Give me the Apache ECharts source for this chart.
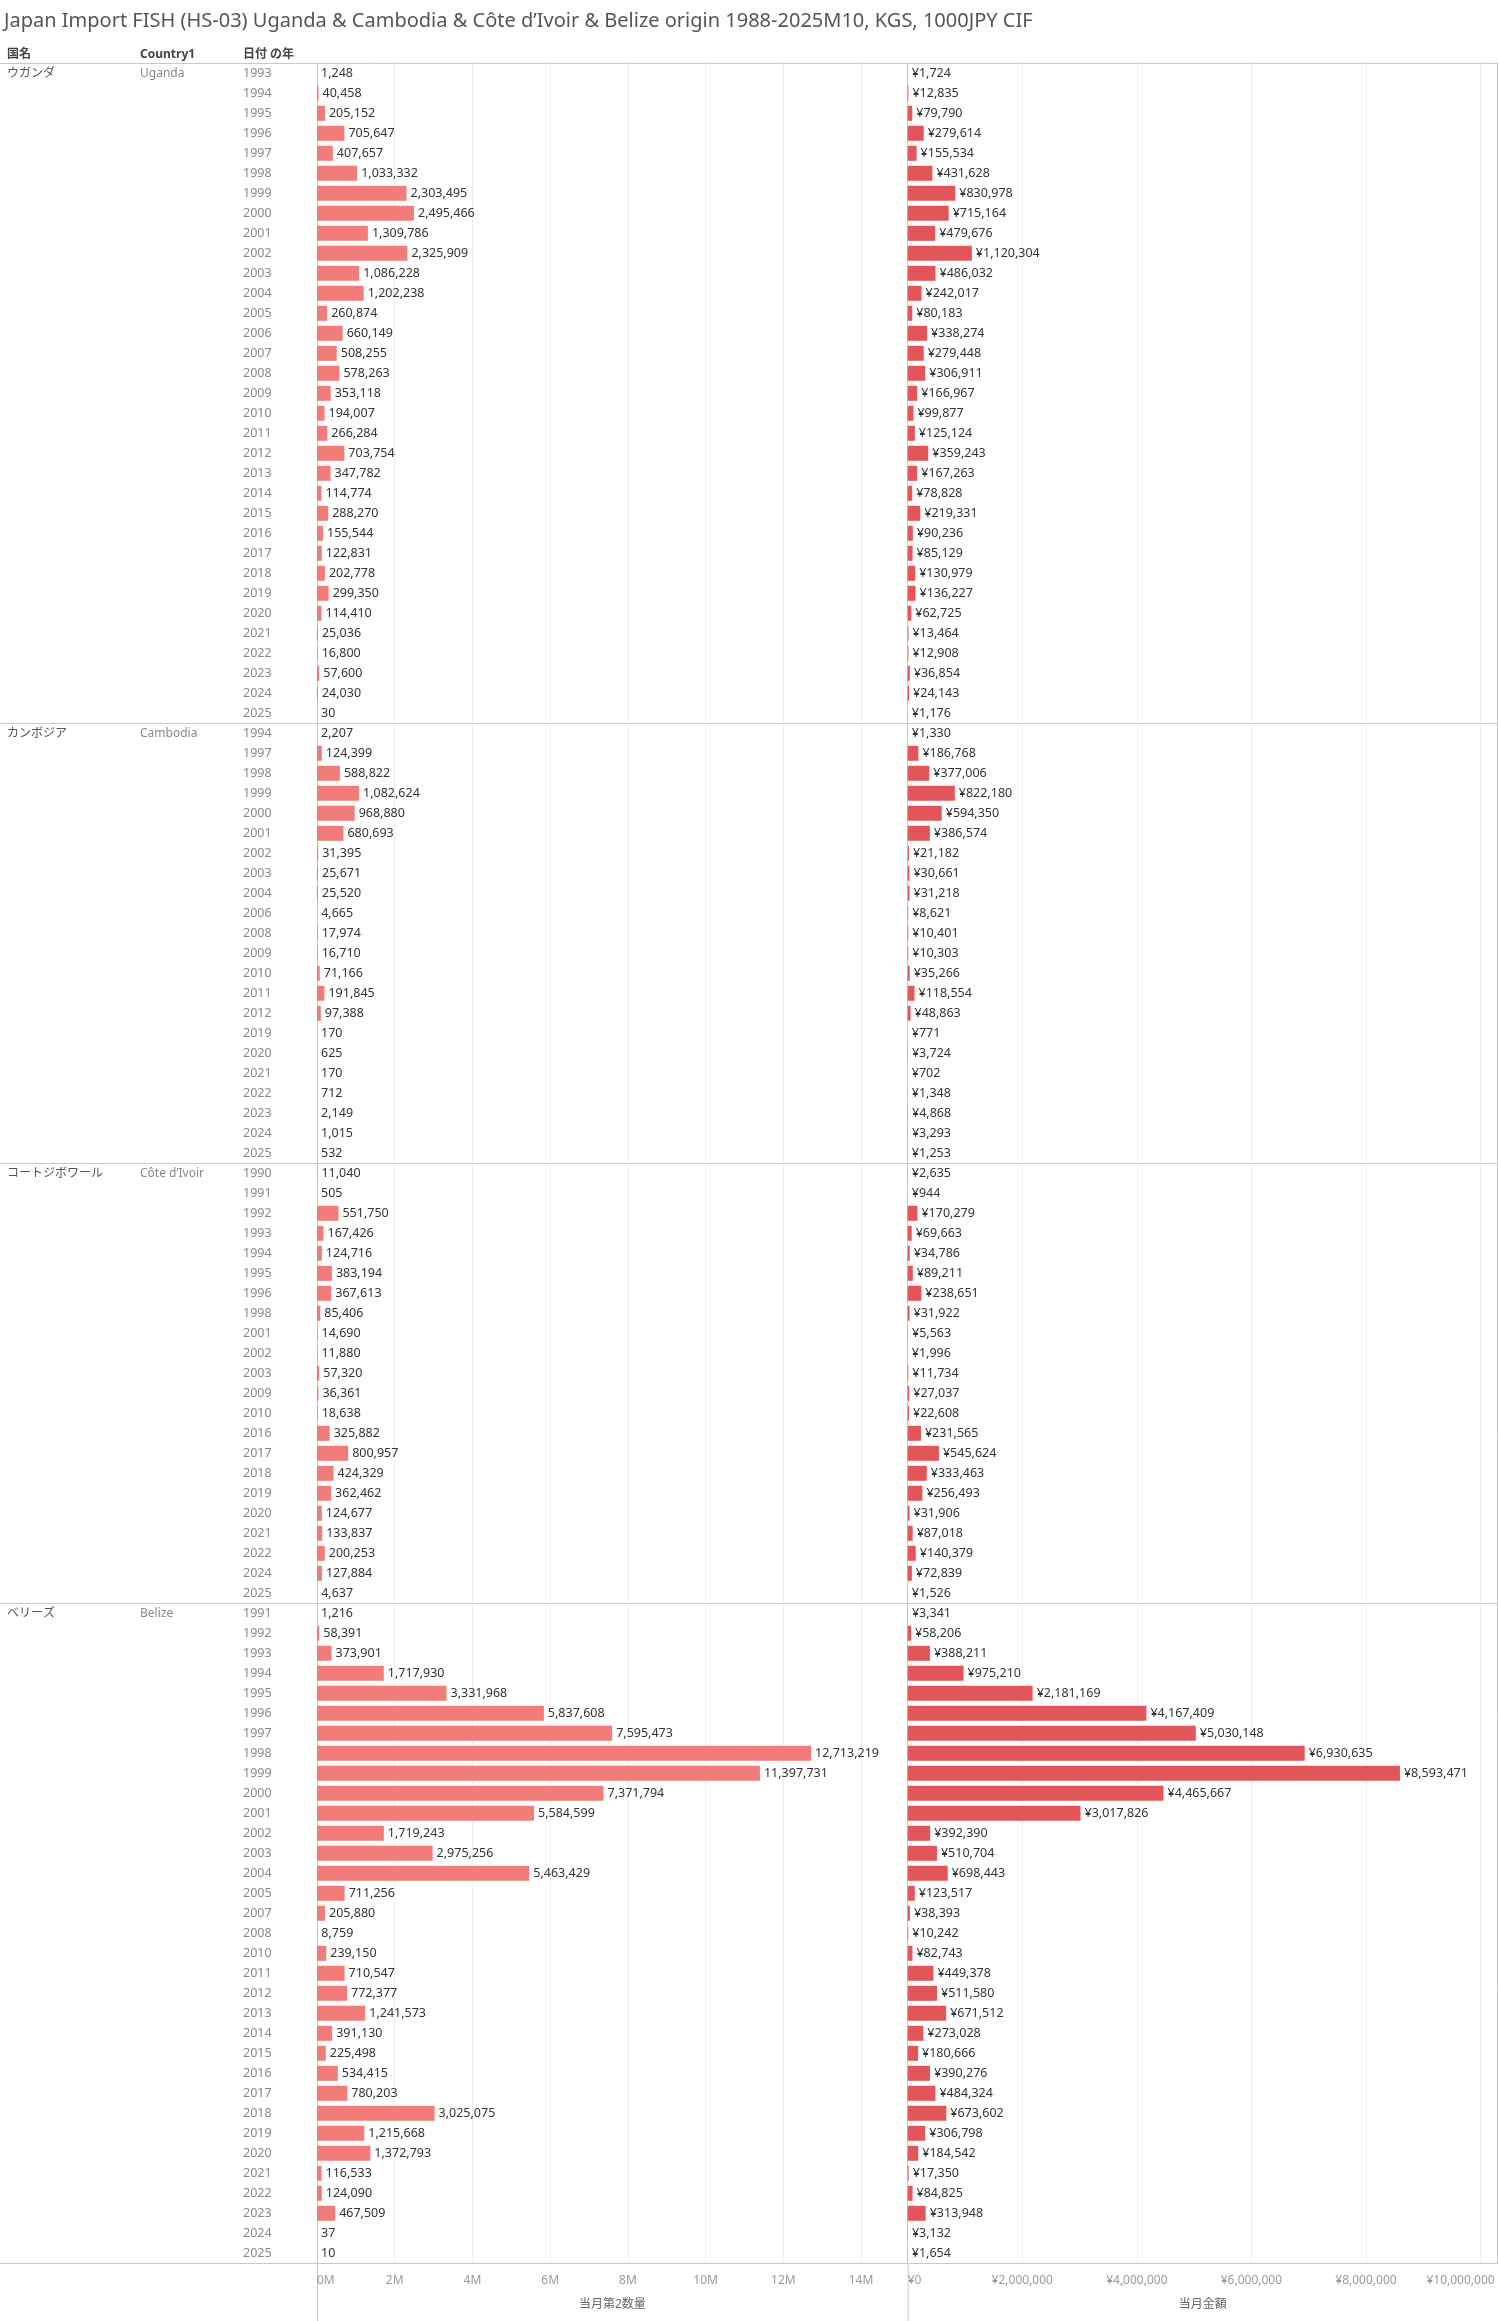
<!DOCTYPE html>
<html>
<head>
<meta charset="utf-8">
<script src="https://cdn.jsdelivr.net/npm/echarts@6/dist/echarts.min.js"></script>
<style>
html,body{margin:0;padding:0;background:#fff;}
#chart{width:1499px;height:2321px;}
</style>
</head>
<body>
<div id="chart"></div>
<script>
// ---------------- DATA ----------------
const titleText = 'Japan Import FISH (HS-03) Uganda & Cambodia & Côte d’Ivoir & Belize origin 1988-2025M10, KGS, 1000JPY CIF';
const headerLabels = ['国名', 'Country1', '日付 の年'];
const countriesJa = ['ウガンダ', 'カンボジア', 'コートジボワール', 'ベリーズ'];
const countriesEn = ['Uganda', 'Cambodia', 'Côte d’Ivoir', 'Belize'];

const ugandaYears = [1993,1994,1995,1996,1997,1998,1999,2000,2001,2002,2003,2004,2005,2006,2007,2008,2009,2010,2011,2012,2013,2014,2015,2016,2017,2018,2019,2020,2021,2022,2023,2024,2025];
const ugandaQty = [1248,40458,205152,705647,407657,1033332,2303495,2495466,1309786,2325909,1086228,1202238,260874,660149,508255,578263,353118,194007,266284,703754,347782,114774,288270,155544,122831,202778,299350,114410,25036,16800,57600,24030,30];
const ugandaAmt = [1724,12835,79790,279614,155534,431628,830978,715164,479676,1120304,486032,242017,80183,338274,279448,306911,166967,99877,125124,359243,167263,78828,219331,90236,85129,130979,136227,62725,13464,12908,36854,24143,1176];

const cambodiaYears = [1994,1997,1998,1999,2000,2001,2002,2003,2004,2006,2008,2009,2010,2011,2012,2019,2020,2021,2022,2023,2024,2025];
const cambodiaQty = [2207,124399,588822,1082624,968880,680693,31395,25671,25520,4665,17974,16710,71166,191845,97388,170,625,170,712,2149,1015,532];
const cambodiaAmt = [1330,186768,377006,822180,594350,386574,21182,30661,31218,8621,10401,10303,35266,118554,48863,771,3724,702,1348,4868,3293,1253];

const coteYears = [1990,1991,1992,1993,1994,1995,1996,1998,2001,2002,2003,2009,2010,2016,2017,2018,2019,2020,2021,2022,2024,2025];
const coteQty = [11040,505,551750,167426,124716,383194,367613,85406,14690,11880,57320,36361,18638,325882,800957,424329,362462,124677,133837,200253,127884,4637];
const coteAmt = [2635,944,170279,69663,34786,89211,238651,31922,5563,1996,11734,27037,22608,231565,545624,333463,256493,31906,87018,140379,72839,1526];

const belizeYears = [1991,1992,1993,1994,1995,1996,1997,1998,1999,2000,2001,2002,2003,2004,2005,2007,2008,2010,2011,2012,2013,2014,2015,2016,2017,2018,2019,2020,2021,2022,2023,2024,2025];
const belizeQty = [1216,58391,373901,1717930,3331968,5837608,7595473,12713219,11397731,7371794,5584599,1719243,2975256,5463429,711256,205880,8759,239150,710547,772377,1241573,391130,225498,534415,780203,3025075,1215668,1372793,116533,124090,467509,37,10];
const belizeAmt = [3341,58206,388211,975210,2181169,4167409,5030148,6930635,8593471,4465667,3017826,392390,510704,698443,123517,38393,10242,82743,449378,511580,671512,273028,180666,390276,484324,673602,306798,184542,17350,84825,313948,3132,1654];

const qtyAxisName = '当月第2数量';
const amtAxisName = '当月金額';

// ---------------- BUILD ----------------
const groups = [
  {ja: countriesJa[0], en: countriesEn[0], years: ugandaYears, qty: ugandaQty, amt: ugandaAmt},
  {ja: countriesJa[1], en: countriesEn[1], years: cambodiaYears, qty: cambodiaQty, amt: cambodiaAmt},
  {ja: countriesJa[2], en: countriesEn[2], years: coteYears, qty: coteQty, amt: coteAmt},
  {ja: countriesJa[3], en: countriesEn[3], years: belizeYears, qty: belizeQty, amt: belizeAmt}
];
const keys = [], yearLbl = [], enLbl = [], jaLbl = [], qtyData = [], amtData = [];
const groupStart = new Set();
groups.forEach(g => {
  groupStart.add(keys.length);
  g.years.forEach((y, i) => {
    keys.push(g.en + '|' + y);
    yearLbl.push(String(y));
    enLbl.push(i === 0 ? g.en : '');
    jaLbl.push(i === 0 ? g.ja : '');
    qtyData.push(g.qty[i]);
    amtData.push(g.amt[i]);
  });
});
const N = keys.length;

const FONT = '"Noto Sans", "Noto Sans CJK JP", sans-serif';
const TOP = 63.3, ROW = 20, H = N * ROW;
const Q_LEFT = 317, Q_W = 590.7, A_LEFT = 907.7, A_W = 590;
const fmt = v => Number(v).toLocaleString('en-US');
const LINE = '#c8c8c8', GRIDC = '#efefef';

function labelAxis(gridIndex, labels, margin, color, show, size) {
  return {
    type: 'category', gridIndex: gridIndex, data: keys, inverse: true, position: 'left',
    axisLine: {show: !!show, lineStyle: {color: LINE}}, axisTick: {show: false}, splitLine: {show: false},
    axisLabel: labels ? {
      show: true, interval: 0, margin: margin, align: 'left', color: color,
      fontFamily: FONT, fontSize: size || 12, padding: [2, 0, 0, 0],
      formatter: (v, idx) => labels[idx]
    } : {show: false}
  };
}

const chart = echarts.init(document.getElementById('chart'), null, {renderer: 'canvas'});
chart.setOption({
  animation: false,
  backgroundColor: '#fff',
  title: [
    {text: titleText, left: 4, top: 11, padding: 0, textStyle: {fontFamily: FONT, fontSize: 20, fontWeight: 'normal', color: '#555'}},
    {text: headerLabels[0], left: 7, top: 49, padding: 0, textStyle: {fontFamily: FONT, fontSize: 12, fontWeight: 'bold', color: '#444'}},
    {text: headerLabels[1], left: 140, top: 49, padding: 0, textStyle: {fontFamily: FONT, fontSize: 12, fontWeight: 'bold', color: '#444'}},
    {text: headerLabels[2], left: 243, top: 49, padding: 0, textStyle: {fontFamily: FONT, fontSize: 12, fontWeight: 'bold', color: '#444'}}
  ],
  grid: [
    {left: Q_LEFT, top: TOP, width: Q_W, height: H, outerBoundsMode: 'none', containLabel: false},
    {left: A_LEFT, top: TOP, width: A_W, height: H, outerBoundsMode: 'none', containLabel: false},
    {left: 0, top: TOP, width: A_LEFT + A_W, height: H, outerBoundsMode: 'none', containLabel: false}
  ],
  xAxis: [
    {
      type: 'value', gridIndex: 0, min: 0, max: 15.2e6, interval: 2e6, position: 'bottom',
      axisLine: {show: false}, axisTick: {show: false},
      splitLine: {show: true, lineStyle: {color: GRIDC, width: 1}},
      axisLabel: {show: true, margin: 11, color: '#999', fontFamily: FONT, fontSize: 12, showMaxLabel: false,
        alignMinLabel: 'left', formatter: v => (v / 1e6) + 'M'},
      name: qtyAxisName, nameLocation: 'middle', nameGap: 35,
      nameTextStyle: {fontFamily: FONT, fontSize: 12, color: '#666'}
    },
    {
      type: 'value', gridIndex: 1, min: 0, max: 10.3e6, interval: 2e6, position: 'bottom',
      axisLine: {show: false}, axisTick: {show: false},
      splitLine: {show: true, lineStyle: {color: GRIDC, width: 1}},
      axisLabel: {show: true, margin: 11, color: '#999', fontFamily: FONT, fontSize: 12, showMaxLabel: false,
        alignMinLabel: 'left',
        formatter: v => v >= 1e7 ? '{r|¥' + fmt(v) + '}' : '¥' + fmt(v),
        rich: {r: {color: '#999', fontFamily: FONT, fontSize: 12, padding: [0, 40, 0, 0]}}},
      name: amtAxisName, nameLocation: 'middle', nameGap: 35,
      nameTextStyle: {fontFamily: FONT, fontSize: 12, color: '#666'}
    },
    {
      type: 'value', gridIndex: 2, min: 0, max: 1, position: 'bottom',
      axisLine: {show: true, onZero: false, lineStyle: {color: LINE}}, axisTick: {show: false},
      axisLabel: {show: false}, splitLine: {show: false}
    }
  ],
  yAxis: [
    labelAxis(0, yearLbl, Q_LEFT - 243, '#888', true, 12.5),
    labelAxis(0, enLbl, Q_LEFT - 140, '#888', false, 12),
    labelAxis(0, jaLbl, Q_LEFT - 7, '#555', false, 12),
    labelAxis(1, null, 0, '#888', true),
    {
      type: 'category', gridIndex: 2, data: keys, inverse: true, position: 'left',
      axisLine: {show: false}, axisTick: {show: false}, axisLabel: {show: false},
      splitLine: {show: true, interval: (idx) => groupStart.has(idx), lineStyle: {color: LINE, width: 1}}
    },
    {
      type: 'category', gridIndex: 2, data: keys, inverse: true, position: 'right',
      axisLine: {show: true, lineStyle: {color: LINE}}, axisTick: {show: false}, axisLabel: {show: false},
      splitLine: {show: false}
    }
  ],
  series: [
    {
      type: 'bar', xAxisIndex: 0, yAxisIndex: 0, data: qtyData, barWidth: 15,
      itemStyle: {color: '#F17C7A'},
      label: {show: true, position: 'right', distance: 4, color: '#333', fontFamily: FONT, fontSize: 12.5,
        padding: [2, 0, 0, 0], formatter: p => fmt(p.value)}
    },
    {
      type: 'bar', xAxisIndex: 1, yAxisIndex: 3, data: amtData, barWidth: 15,
      itemStyle: {color: '#E15759'},
      label: {show: true, position: 'right', distance: 4, color: '#333', fontFamily: FONT, fontSize: 12.5,
        padding: [2, 0, 0, 0], formatter: p => '¥' + fmt(p.value)}
    }
  ],
  graphic: [
    {type: 'line', shape: {x1: Q_LEFT + 0.5, y1: TOP + H, x2: Q_LEFT + 0.5, y2: 2321}, style: {stroke: LINE, lineWidth: 1}, silent: true},
    {type: 'line', shape: {x1: A_LEFT + 0.5, y1: TOP + H, x2: A_LEFT + 0.5, y2: 2321}, style: {stroke: LINE, lineWidth: 1}, silent: true}
  ]
});
</script>
</body>
</html>
